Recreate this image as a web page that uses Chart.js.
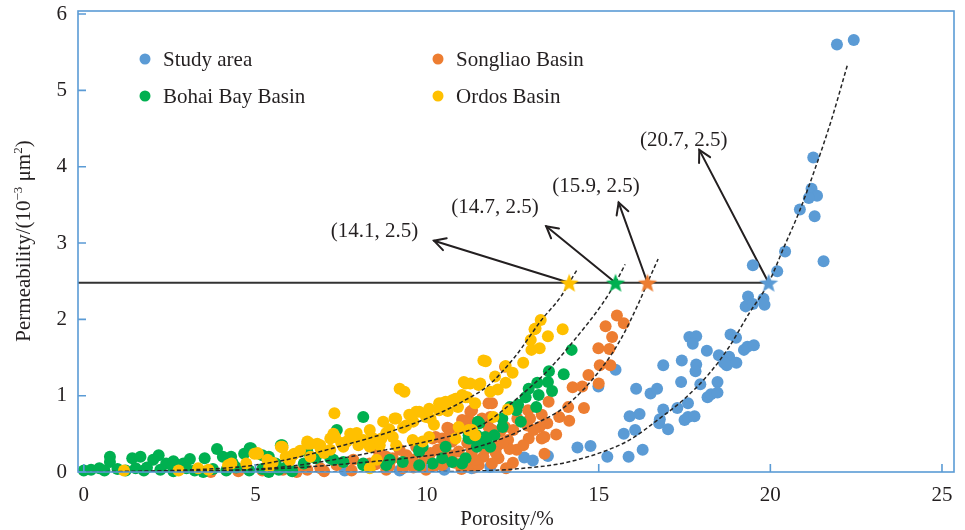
<!DOCTYPE html>
<html>
<head>
<meta charset="utf-8">
<script src="https://cdn.jsdelivr.net/npm/chart.js@4/dist/chart.umd.min.js"></script>
<style>
  body { margin: 0; background: #fff; }
</style>
</head>
<body>
<canvas id="chart" width="965" height="530"></canvas>
<script>
// axis ticks
const xTicks = [0, 5, 10, 15, 20, 25];
const yTicks = [0, 1, 2, 3, 4, 5, 6];

// legend order: Study area, Songliao, Bohai Bay, Ordos
const seriesNames = ['Study area', 'Songliao Basin', 'Bohai Bay Basin', 'Ordos Basin'];
const seriesColors = ['#5B9BD5', '#ED7D31', '#00B050', '#FFC000'];

// [porosity %, permeability]
const studyArea = [
  [22.43,5.66],[21.94,5.6],[21.25,4.12],[21.2,3.71],[21.36,3.62],[21.12,3.59],[20.86,3.44],[21.29,3.35],
  [20.43,2.89],[21.55,2.76],[19.49,2.71],[20.2,2.63],[19.35,2.3],[19.28,2.17],[19.49,2.2],[19.8,2.27],[19.83,2.19],
  [17.64,1.77],[17.84,1.78],[17.74,1.68],[18.15,1.59],[18.84,1.8],[19.0,1.76],[19.23,1.6],[19.33,1.64],[19.52,1.66],
  [16.88,1.4],[17.42,1.46],[17.84,1.41],[17.82,1.32],[18.8,1.51],[18.65,1.43],[18.73,1.4],[19.01,1.43],[18.5,1.53],
  [17.4,1.18],[17.96,1.15],[18.46,1.18],[16.09,1.09],[16.51,1.03],[16.7,1.09],[18.17,0.98],[18.27,1.02],[18.46,1.04],
  [17.6,0.9],[17.29,0.84],[16.88,0.82],[16.19,0.76],[16.78,0.69],[16.76,0.64],[17.5,0.68],[17.6,0.72],[17.79,0.73],
  [17.02,0.56],[16.06,0.55],[16.28,0.29],[15.49,1.34],[14.99,1.12],[15.9,0.73],[15.73,0.5],[14.38,0.32],[14.76,0.34],
  [15.25,0.2],[15.87,0.2],[12.83,0.19],[13.08,0.15],[13.52,0.21],[11.84,0.07],[7.6,0.02],[9.2,0.02],[10.5,0.03],[11.3,0.05]
];
const songliao = [
  [15.53,2.05],[15.73,1.95],[15.2,1.91],[15.39,1.77],[14.99,1.62],[15.31,1.61],[15.03,1.4],[15.34,1.4],[14.7,1.27],
  [15.0,1.16],[14.24,1.11],[14.52,1.12],[14.57,0.84],[14.11,0.85],[14.14,0.67],[13.54,0.92],[13.85,0.72],[13.76,0.49],
  [13.34,0.75],[13.5,0.64],[13.28,0.59],[13.42,0.46],[13.34,0.44],[13.42,0.24],[12.96,0.44],[12.94,0.81],[13.0,0.7],
  [12.92,0.61],[12.63,0.7],[12.51,0.55],[12.61,0.29],[12.27,0.59],[12.13,0.53],[12.36,0.42],[11.89,0.9],[12.27,1.38],
  [11.84,0.72],[11.6,0.7],[11.31,0.81],[11.21,0.68],[12.03,0.33],[12.08,0.18],[11.89,0.11],[11.64,0.2],[11.31,0.27],
  [11.21,0.11],[11.38,0.06],[11.17,0.38],[11.26,0.79],[11.17,0.66],[10.59,0.58],[10.92,0.57],[10.16,0.44],[10.44,0.44],
  [10.73,0.4],[10.3,0.29],[10.92,0.27],[11.31,0.29],[11.5,0.09],[9.97,0.2],[9.58,0.16],[9.2,0.29],[8.81,0.2],[8.43,0.33],
  [9.29,0.05],[8.81,0.03],[8.33,0.11],[7.85,0.16],[7.37,0.09],[6.89,0.05],[6.51,0.03],[9.97,0.03],[10.44,0.09],[11.12,0.07],
  [11.79,0.9],[11.79,0.59],[10.25,0.46],[10.64,0.57],[9.68,0.33],[11.02,0.68],[10.64,0.48],[8.53,0.35],[8.62,0.25],
  [3.7,0.0],[4.5,0.01],[5.2,0.02],[5.8,0.03],[6.2,0.0],[7.0,0.01],[7.8,0.02],[8.5,0.1],[8.9,0.08],[9.3,0.12],[9.6,0.06],
  [9.9,0.14],[10.2,0.08],[10.5,0.18],[10.8,0.12],[11.0,0.04],[10.1,0.25],[9.4,0.22],[8.6,0.26],[12.5,0.12],[12.3,0.05],
  [9.0,0.18],[9.8,0.28],[10.4,0.3],[10.7,0.22],[11.4,0.16],[11.7,0.3],[12.0,0.25],[12.4,0.3],[12.8,0.35],[13.1,0.55],
  [12.2,0.38],[11.5,0.45],[11.9,0.55]
];
const bohaiBay = [
  [14.21,1.6],[13.98,1.28],[13.55,1.32],[13.21,1.17],[13.52,1.18],[13.64,1.06],[12.96,1.09],[12.87,0.98],[13.25,1.01],
  [13.18,0.85],[12.65,0.88],[12.73,0.66],[12.19,0.7],[12.2,0.59],[11.52,0.64],[11.96,0.48],[11.69,0.46],[11.64,0.38],
  [11.45,0.48],[11.21,0.44],[11.84,0.33],[12.41,0.85],[11.48,0.66],[11.74,0.38],[12.6,0.81],[8.14,0.72],[7.37,0.55],
  [11.26,0.44],[11.45,0.33],[9.77,0.29],[8.91,0.16],[8.81,0.09],[8.14,0.11],[7.56,0.13],[7.27,0.16],[6.51,0.31],
  [6.75,0.18],[6.41,0.11],[10.16,0.11],[10.73,0.13],[9.29,0.13],[11.02,0.11],[10.54,0.33],[9.87,0.33],
  [0.76,0.2],[0.76,0.13],[1.41,0.18],[1.65,0.2],[2.18,0.22],[2.4,0.11],[2.02,0.16],[2.61,0.14],[2.9,0.11],[3.09,0.17],
  [3.52,0.18],[3.88,0.3],[4.05,0.2],[4.29,0.2],[4.34,0.11],[4.67,0.24],[4.87,0.31],[5.2,0.22],[5.39,0.2],[5.78,0.35],
  [5.97,0.16],[5.59,0.11],[0.0,0.02],[0.21,0.03],[0.45,0.05],[0.6,0.02],[0.98,0.04],[1.22,0.02],[1.51,0.05],[1.75,0.02],
  [1.84,0.06],[2.23,0.03],[2.61,0.01],[2.99,0.05],[3.23,0.02],[3.48,0.0],[3.76,0.04],[4.15,0.02],[4.44,0.06],[4.82,0.02],
  [5.2,0.04],[5.39,0.0],[5.68,0.03],[5.88,0.06],[6.07,0.01],[4.83,0.31],[5.74,0.35],[6.51,0.27],[7.18,0.18],[8.14,0.09],
  [9.77,0.27],[10.44,0.18],[9.77,0.09],[11.12,0.18],[11.21,0.48]
];
const ordos = [
  [13.31,1.99],[13.95,1.87],[13.13,1.87],[13.52,1.78],[13.02,1.73],[13.28,1.62],[13.04,1.6],[12.8,1.43],[12.29,1.39],
  [12.49,1.3],[11.71,1.45],[11.98,1.25],[12.29,1.17],[12.06,1.08],[11.84,1.05],[11.55,1.16],[11.26,1.16],[11.17,0.98],
  [12.35,0.82],[11.93,0.72],[11.21,0.55],[13.16,1.88],[11.5,1.14],[9.2,1.09],[9.34,1.05],[11.12,1.16],[11.64,1.46],
  [10.83,0.96],[10.44,0.9],[10.06,0.83],[9.77,0.79],[7.3,0.77],[9.1,0.7],[8.72,0.66],[8.33,0.55],[7.95,0.51],[7.32,0.46],
  [6.89,0.35],[6.51,0.37],[6.13,0.24],[7.18,0.29],[7.66,0.4],[8.14,0.42],[8.81,0.51],[9.39,0.61],[9.97,0.72],[10.35,0.81],
  [10.54,0.92],[11.12,0.98],[8.33,0.33],[8.53,0.16],[8.33,0.05],[9.1,0.35],[9.58,0.42],[10.06,0.46],[10.92,0.59],[11.31,0.55],
  [11.07,1.18],[5.07,0.24],[5.74,0.33],[6.08,0.22],[6.51,0.4],[6.8,0.37],[7.27,0.5],[7.56,0.33],[8.67,0.44],[9.48,0.75],
  [10.73,0.94],[11.02,1.01],[4.3,0.11],[4.73,0.11],[3.63,0.03],[5.4,0.07],[1.17,0.02],[2.76,0.02],[3.33,0.05],[4.2,0.09],
  [5.06,0.25],[5.35,0.16],[5.78,0.33],[5.88,0.2],[5.79,0.32],[4.97,0.24],[6.6,0.37],[7.18,0.44],[7.76,0.5],[9.05,0.7],
  [9.68,0.79],[10.35,0.9],[8.62,0.35],[9.87,0.4],[10.83,0.44],[11.4,0.48],
  [6.3,0.28],[6.9,0.3],[7.5,0.38],[7.9,0.45],[8.4,0.45],[8.9,0.56],[9.3,0.58],[9.6,0.66],[10.1,0.7],[10.6,0.8],
  [10.9,0.85],[11.4,0.9],[10.2,0.62],[9.0,0.46],[8.0,0.35],[7.0,0.25],[6.0,0.15],[5.5,0.12],[6.6,0.2]
];

// dashed fit curves
const studyFit = [[0.06,0],[8,0],[11.12,0.01],[12.56,0.04],[14.0,0.12],[15.44,0.32],[16.01,0.45],[16.68,0.67],[17.45,0.94],
  [18.22,1.29],[18.8,1.64],[19.37,2.07],[19.95,2.48],[20.4,2.95],[20.85,3.42],[21.3,3.97],[21.77,4.6],[22.25,5.34]];
const songliaoFit = [[0.06,0],[3,0.01],[5.93,0.05],[8,0.12],[9.77,0.2],[11.12,0.29],[12.08,0.42],[13.04,0.61],[14.0,0.85],
  [14.96,1.29],[15.63,1.73],[16.2,2.25],[16.42,2.48],[16.73,2.79]];
const bohaiFit = [[0.06,0],[3,0.01],[5.9,0.07],[8.8,0.29],[10,0.4],[11.12,0.53],[11.69,0.64],[12.56,0.94],[13.52,1.33],
  [14.29,1.73],[15.1,2.2],[15.49,2.48],[15.77,2.72]];
const ordosFit = [[0.06,0],[3.2,0.03],[4.6,0.07],[6.0,0.17],[7.4,0.33],[8.8,0.51],[10.25,0.75],[11.1,0.94],[11.8,1.14],
  [12.56,1.51],[13.33,1.99],[13.9,2.3],[14.14,2.48],[14.37,2.65]];

// cutoff line and marked intersections (Ordos, Bohai Bay, Songliao, Study area)
const cutoffY = 2.48;
const cutoffStartX = -0.17;
const starX = [14.14, 15.49, 16.42, 19.95];
const starColors = ['#FFC000', '#00B050', '#ED7D31', '#5B9BD5'];
const arrowTipX = [10.2, 13.47, 15.58, 17.93];
const arrowTipY = [3.03, 3.22, 3.53, 4.22];
const labelText = ['(14.1, 2.5)', '(14.7, 2.5)', '(15.9, 2.5)', '(20.7, 2.5)'];
const labelX = [8.47, 11.98, 14.92, 17.48];
const labelY = [3.15, 3.46, 3.74, 4.35];

const serif = '"Liberation Serif", "Times New Roman", serif';
const ink = '#231f20';
const frameBlue = '#5B9BD5';

function toPts(arr) {
  return arr.map(p => ({ x: p[0], y: p[1] }));
}

function starImage(color) {
  const c = document.createElement('canvas');
  c.width = 22; c.height = 22;
  const g = c.getContext('2d');
  g.beginPath();
  for (let i = 0; i < 10; i++) {
    const r = i % 2 ? 4.2 : 10;
    const a = -Math.PI / 2 + i * Math.PI / 5;
    g.lineTo(11 + r * Math.cos(a), 12 + r * Math.sin(a));
  }
  g.closePath();
  g.fillStyle = color;
  g.fill();
  return c;
}

function scatterSet(idx, pts, order) {
  return {
    label: seriesNames[idx],
    data: toPts(pts),
    backgroundColor: seriesColors[idx],
    borderWidth: 0,
    pointRadius: 6,
    pointHoverRadius: 6,
    clip: false,
    order: order
  };
}

function fitSet(pts) {
  return {
    label: 'fit',
    data: toPts(pts),
    showLine: true,
    borderColor: '#262626',
    borderWidth: 1.5,
    borderDash: [4, 2.5],
    pointRadius: 0,
    cubicInterpolationMode: 'monotone',
    fill: false,
    order: 1
  };
}

function drawArrow(ctx, x0, y0, x1, y1) {
  ctx.beginPath();
  ctx.moveTo(x0, y0);
  ctx.lineTo(x1, y1);
  ctx.stroke();
  const ang = Math.atan2(y1 - y0, x1 - x0);
  const L = 13, w = 0.5;
  ctx.beginPath();
  ctx.moveTo(x1 - L * Math.cos(ang - w), y1 - L * Math.sin(ang - w));
  ctx.lineTo(x1, y1);
  ctx.lineTo(x1 - L * Math.cos(ang + w), y1 - L * Math.sin(ang + w));
  ctx.stroke();
}

const decor = {
  id: 'decor',
  beforeDatasetsDraw(chart) {
    const { ctx, scales: { x, y } } = chart;
    ctx.save();
    ctx.strokeStyle = ink;
    ctx.lineWidth = 2;
    ctx.lineCap = 'round';
    for (let i = 0; i < starX.length; i++) {
      drawArrow(ctx, x.getPixelForValue(starX[i]), y.getPixelForValue(cutoffY),
        x.getPixelForValue(arrowTipX[i]), y.getPixelForValue(arrowTipY[i]));
    }
    ctx.restore();
  },
  afterDraw(chart) {
    const { ctx, chartArea: a, scales: { x, y } } = chart;
    ctx.save();
    // frame
    ctx.strokeStyle = frameBlue;
    ctx.lineWidth = 1.6;
    ctx.strokeRect(a.left, a.top, a.right - a.left, a.bottom - a.top);
    // inward tick marks
    ctx.beginPath();
    xTicks.forEach(v => {
      const px = x.getPixelForValue(v);
      ctx.moveTo(px, a.bottom);
      ctx.lineTo(px, a.bottom - 8);
    });
    yTicks.forEach(v => {
      const py = y.getPixelForValue(v);
      ctx.moveTo(a.left, py);
      ctx.lineTo(a.left + 8, py);
    });
    ctx.stroke();

    // labels of the arrows
    ctx.fillStyle = ink;
    ctx.font = '21px ' + serif;
    ctx.textAlign = 'center';
    ctx.textBaseline = 'middle';
    for (let i = 0; i < labelText.length; i++) {
      ctx.fillText(labelText[i], x.getPixelForValue(labelX[i]), y.getPixelForValue(labelY[i]));
    }

    // legend, two columns
    const cols = [145, 438];
    const rows = [59, 96];
    ctx.textAlign = 'left';
    seriesNames.forEach((name, i) => {
      const cx = cols[i % 2], cy = rows[Math.floor(i / 2)];
      ctx.fillStyle = seriesColors[i];
      ctx.beginPath();
      ctx.arc(cx, cy, 5.5, 0, Math.PI * 2);
      ctx.fill();
      ctx.fillStyle = ink;
      ctx.fillText(name, cx + 18, cy + 1);
    });

    // x title
    ctx.textAlign = 'center';
    ctx.fillText('Porosity/%', 507, 519);

    // y title with superscripts
    ctx.translate(23, 241);
    ctx.rotate(-Math.PI / 2);
    const parts = [['Permeability/(10', 21, 0], ['\u22123', 13, -8], [' \u03bcm', 21, 0], ['2', 13, -8], [')', 21, 0]];
    let total = 0;
    parts.forEach(p => { ctx.font = p[1] + 'px ' + serif; total += ctx.measureText(p[0]).width; });
    let cx = -total / 2;
    ctx.textAlign = 'left';
    ctx.textBaseline = 'alphabetic';
    parts.forEach(p => {
      ctx.font = p[1] + 'px ' + serif;
      ctx.fillText(p[0], cx, 7 + p[2]);
      cx += ctx.measureText(p[0]).width;
    });
    ctx.restore();
  }
};

new Chart(document.getElementById('chart'), {
  type: 'scatter',
  data: {
    datasets: [
      {
        label: 'stars',
        data: starX.map(v => ({ x: v, y: cutoffY })),
        pointStyle: starColors.map(starImage),
        pointRadius: 10,
        clip: false,
        order: 0
      },
      {
        label: 'cutoff',
        data: [{ x: cutoffStartX, y: cutoffY }, { x: starX[3], y: cutoffY }],
        showLine: true,
        borderColor: '#333',
        borderWidth: 2,
        pointRadius: 0,
        order: 1
      },
      fitSet(ordosFit),
      fitSet(bohaiFit),
      fitSet(songliaoFit),
      fitSet(studyFit),
      scatterSet(3, ordos, 2),
      scatterSet(2, bohaiBay, 3),
      scatterSet(1, songliao, 4),
      scatterSet(0, studyArea, 5)
    ]
  },
  options: {
    responsive: false,
    animation: false,
    layout: { padding: { top: 10, right: 1, left: 0, bottom: 0 } },
    plugins: { legend: { display: false }, tooltip: { enabled: false } },
    scales: {
      x: {
        type: 'linear',
        min: -0.17,
        max: 25.35,
        afterBuildTicks: s => { s.ticks = xTicks.map(v => ({ value: v })); },
        afterFit: s => { s.height = 58; s.paddingLeft = 0; s.paddingRight = 0; },
        ticks: { font: { family: serif, size: 21 }, color: ink, padding: 11, maxRotation: 0, autoSkip: false },
        grid: { drawOnChartArea: false, drawTicks: false },
        border: { display: false }
      },
      y: {
        min: 0,
        max: 6.04,
        afterBuildTicks: s => { s.ticks = yTicks.map(v => ({ value: v })); },
        afterFit: s => { s.width = 78; s.paddingTop = 0; s.paddingBottom = 0; },
        ticks: { font: { family: serif, size: 21 }, color: ink, padding: 11 },
        grid: { drawOnChartArea: false, drawTicks: false },
        border: { display: false }
      }
    }
  },
  plugins: [decor]
});
</script>
</body>
</html>
